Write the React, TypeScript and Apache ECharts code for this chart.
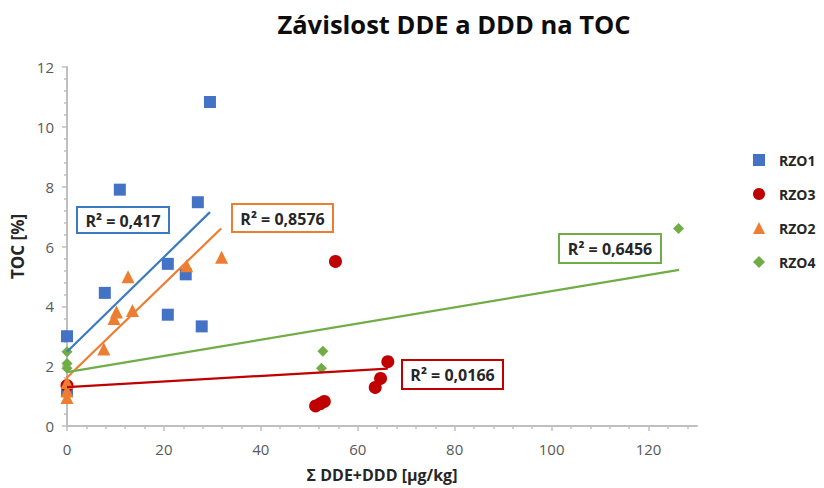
import React, { useEffect, useRef } from "react";
import * as echarts from "echarts";

const FONT = "'Open Sans', 'Noto Sans', sans-serif";

const seriesNames = ["RZO1", "RZO3", "RZO2", "RZO4"];
const seriesColors = ["#4472C4", "#C00000", "#ED7D31", "#70AD47"];
const trendColors = ["#3B79C3", "#C00000", "#ED7D31", "#70AD47"];
const seriesSymbols = ["rect", "circle", "triangle", "diamond"];
const symbolSizes = [12, 13, 13, 11];

const rzo1 = [[0, 3.0], [0, 1.2], [7.8, 4.45], [10.9, 7.9], [20.8, 5.42], [20.8, 3.72], [24.5, 5.07], [27.0, 7.48], [27.8, 3.33], [29.5, 10.83]];
const rzo3 = [[0, 1.35], [51.3, 0.67], [52.3, 0.75], [53.1, 0.82], [55.4, 5.5], [63.6, 1.29], [64.7, 1.59], [66.2, 2.15]];
const rzo2 = [[0, 1.45], [0, 1.17], [0, 0.95], [7.6, 2.57], [9.7, 3.59], [10.2, 3.81], [12.6, 4.99], [13.5, 3.86], [24.7, 5.36], [31.9, 5.64]];
const rzo4 = [[0, 2.48], [0, 2.09], [0, 1.93], [52.8, 2.5], [52.5, 1.93], [126.2, 6.6]];

const trend1 = [[0, 2.48], [29.5, 7.15]];
const trend3 = [[0, 1.3], [66.2, 1.92]];
const trend2 = [[0, 1.62], [31.8, 6.6]];
const trend4 = [[0, 1.8], [126.3, 5.22]];

const r2Labels = ["R² = 0,417", "R² = 0,0166", "R² = 0,8576", "R² = 0,6456"];

const xMajorTicks = [0, 20, 40, 60, 80, 100, 120];
const xMinorTicks = [4, 8, 12, 16, 24, 28, 32, 36, 44, 48, 52, 56, 64, 68, 72, 76, 84, 88, 92, 96, 104, 108, 112, 116, 124, 128];

const allData = [rzo1, rzo3, rzo2, rzo4];
const allTrends = [trend1, trend3, trend2, trend4];

// annotation box layout: [left, top, width, height]
const boxLayout = [
  [77, 207, 92, 26],
  [402, 360, 101, 29],
  [232, 204, 101, 28],
  [559, 234, 102, 29],
];

export default function App() {
  const ref = useRef<HTMLDivElement>(null);
  useEffect(() => {
    document.body.style.margin = "0";
    if (!ref.current) return;
    const chart = echarts.init(ref.current, undefined, { renderer: "svg" });

    const scatterSeries = allData.map((d, i) => ({
      name: seriesNames[i],
      type: "scatter",
      data: d,
      symbol: seriesSymbols[i],
      symbolSize: symbolSizes[i],
      itemStyle: { color: seriesColors[i], opacity: 1 },
      z: 2,
    }));
    const lineSeries = allTrends.map((d, i) => ({
      name: seriesNames[i] + " trend",
      type: "line",
      data: d,
      symbol: "none",
      lineStyle: { color: trendColors[i], width: 2.2 },
      z: 3,
      silent: true,
    }));

    const graphics: any[] = [];
    boxLayout.forEach((b, i) => {
      graphics.push({
        type: "rect",
        shape: { x: b[0], y: b[1], width: b[2], height: b[3] },
        style: { fill: "#fff", stroke: trendColors[i], lineWidth: 2 },
        z: 10,
      });
      graphics.push({
        type: "text",
        x: b[0] + b[2] / 2,
        y: b[1] + b[3] / 2 + 0.5,
        style: {
          text: r2Labels[i],
          fill: "#262626",
          font: `bold 16px ${FONT}`,
          align: "center",
          verticalAlign: "middle",
        },
        z: 11,
      });
    });

    chart.setOption({
      animation: false,
      backgroundColor: "#fff",
      title: {
        text: "Závislost DDE a DDD na TOC",
        left: 449,
        textAlign: "center",
        top: 6,
        textStyle: { fontFamily: FONT, fontSize: 25.5, fontWeight: "bold", color: "#0d0d0d" },
      },
      legend: {
        data: seriesNames.map((n, i) => ({ name: n, icon: seriesSymbols[i] })),
        orient: "vertical",
        left: 748,
        top: 148,
        itemWidth: 12,
        itemHeight: 12,
        itemGap: 20,
        textStyle: {
          fontFamily: FONT,
          fontSize: 14,
          fontWeight: "bold",
          color: "#262626",
          lineHeight: 14,
          padding: [0, 0, 0, 9],
        },
        selectedMode: false,
      },
      grid: { left: 67, right: 127, top: 67, bottom: 60, containLabel: false },
      xAxis: [
        {
          type: "value",
          min: 0,
          max: 130,
          interval: 20,
          name: "Σ DDE+DDD [µg/kg]",
          nameLocation: "middle",
          nameGap: 41,
          nameTextStyle: { fontFamily: FONT, fontSize: 16, fontWeight: "bold", color: "#262626" },
          axisLine: { show: true, lineStyle: { color: "#bfbfbf", width: 2 } },
          axisTick: { show: true, customValues: xMajorTicks, length: 5, lineStyle: { color: "#bfbfbf", width: 1.5 } },
          axisLabel: { customValues: xMajorTicks, margin: 15, fontFamily: FONT, fontSize: 15, color: "#595959" },
          splitLine: { show: false },
        },
        {
          type: "value",
          min: 0,
          max: 130,
          interval: 20,
          position: "bottom",
          axisLine: { show: false },
          axisTick: { show: true, customValues: xMinorTicks, length: 3, lineStyle: { color: "#bfbfbf", width: 1.5 } },
          axisLabel: { show: false },
          splitLine: { show: false },
        },
      ],
      yAxis: {
        type: "value",
        min: 0,
        max: 12,
        interval: 2,
        name: "TOC [%]",
        nameLocation: "middle",
        nameGap: 37,
        nameTextStyle: { fontFamily: FONT, fontSize: 17, fontWeight: "bold", color: "#262626" },
        axisLine: { show: true, lineStyle: { color: "#bfbfbf", width: 2 } },
        axisTick: { show: true, length: 5, lineStyle: { color: "#bfbfbf", width: 1.5 } },
        minorTick: { show: true, splitNumber: 5, length: 3, lineStyle: { color: "#bfbfbf", width: 1.5 } },
        axisLabel: { margin: 13, fontFamily: FONT, fontSize: 15, color: "#595959" },
        splitLine: { show: false },
        minorSplitLine: { show: false },
      },
      series: [...scatterSeries, ...lineSeries],
      graphic: graphics,
    });
    return () => chart.dispose();
  }, []);
  return <div ref={ref} style={{ width: 824, height: 488 }} />;
}
